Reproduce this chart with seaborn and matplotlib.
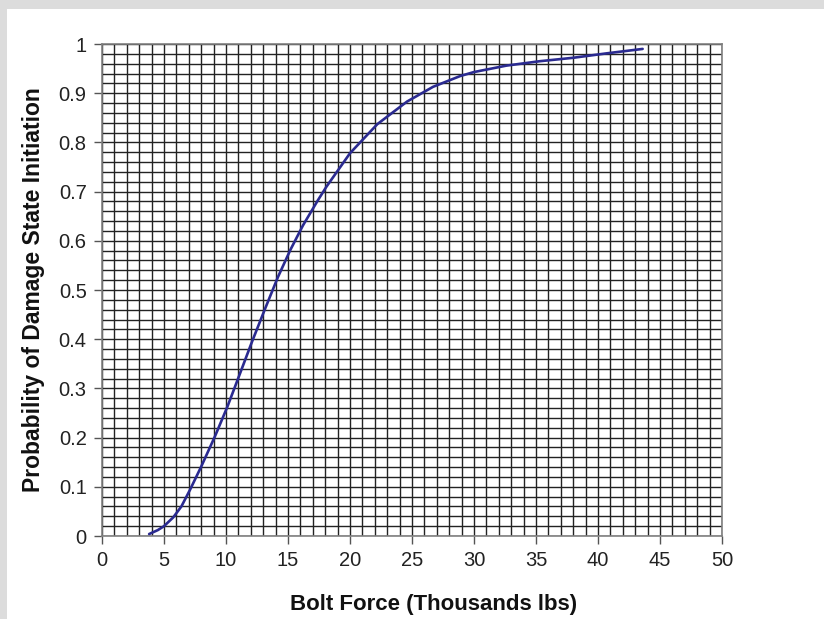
import numpy as np
import pandas as pd
import matplotlib
matplotlib.use("Agg")
import matplotlib.pyplot as plt
import seaborn as sns
from matplotlib.patches import Rectangle
from matplotlib.ticker import FuncFormatter

# values
bolt_force = [3.8, 4.5, 5.0, 5.75, 6.4, 7.1, 8.0, 9.1, 10.1, 10.9, 12.1, 13.2,
              14.2, 15.2, 16.2, 17.4, 18.1, 20.0, 22.2, 24.6, 26.7, 28.9, 30.0,
              32.6, 35.3, 38.0, 40.7, 43.6]
probability = [0.004, 0.012, 0.020, 0.038, 0.060, 0.094, 0.141, 0.202, 0.262,
               0.315, 0.395, 0.465, 0.527, 0.582, 0.631, 0.682, 0.710, 0.778,
               0.837, 0.883, 0.913, 0.935, 0.943, 0.956, 0.965, 0.972, 0.981,
               0.990]

df = pd.DataFrame({"force": bolt_force, "prob": probability})

sns.set_theme(style="white")
plt.rcParams['font.family'] = ['Liberation Sans', 'DejaVu Sans']

fig = plt.figure(figsize=(8.24, 6.19), dpi=100)
fig.patch.set_facecolor("white")
# gray frame strips at the top and left of the screenshot
fig.patches.append(Rectangle((0, 1 - 9 / 619), 1, 9 / 619, transform=fig.transFigure,
                             facecolor="#dcdcdc", edgecolor="none", zorder=0))
fig.patches.append(Rectangle((0, 0), 7 / 824, 1, transform=fig.transFigure,
                             facecolor="#dcdcdc", edgecolor="none", zorder=0))

ax = fig.add_axes([102 / 824, (619 - 536) / 619, 620 / 824, 492 / 619])

sns.lineplot(data=df, x="force", y="prob", ax=ax, color="#2a2a90", linewidth=1.9,
             zorder=3)

ax.set_xlim(0, 50)
ax.set_ylim(0, 1)
ax.set_xticks(np.arange(0, 51, 5))
ax.set_xticks(np.arange(0, 51, 1), minor=True)
ax.set_yticks(np.arange(0, 1.01, 0.1))
ax.set_yticks(np.arange(0, 1.001, 0.02), minor=True)
ax.yaxis.set_major_formatter(FuncFormatter(lambda v, p: f"{v:g}"))
ax.grid(True, which="both", color="#222222", linewidth=1.0)
ax.set_axisbelow(True)

ax.tick_params(axis="both", which="major", direction="out", length=6, width=1,
               color="#555555", labelsize=14.5, labelcolor="#222222",
               bottom=True, left=True)
ax.tick_params(axis="y", which="major", pad=5)
ax.tick_params(axis="x", which="major", pad=5)
ax.tick_params(axis="both", which="minor", length=0)
for s in ax.spines.values():
    s.set_color("#808080")
    s.set_linewidth(1.2)

ax.set_xlabel("Bolt Force (Thousands lbs)", fontsize=16, fontweight="bold",
              color="#111111")
ax.set_ylabel("Probability of Damage State Initiation", fontsize=16.5,
              fontweight="bold", color="#111111")
ax.xaxis.set_label_coords(0.535, -0.117)
ax.yaxis.set_label_coords(-0.092, 0.5)

fig.savefig("out.png", dpi=100)
